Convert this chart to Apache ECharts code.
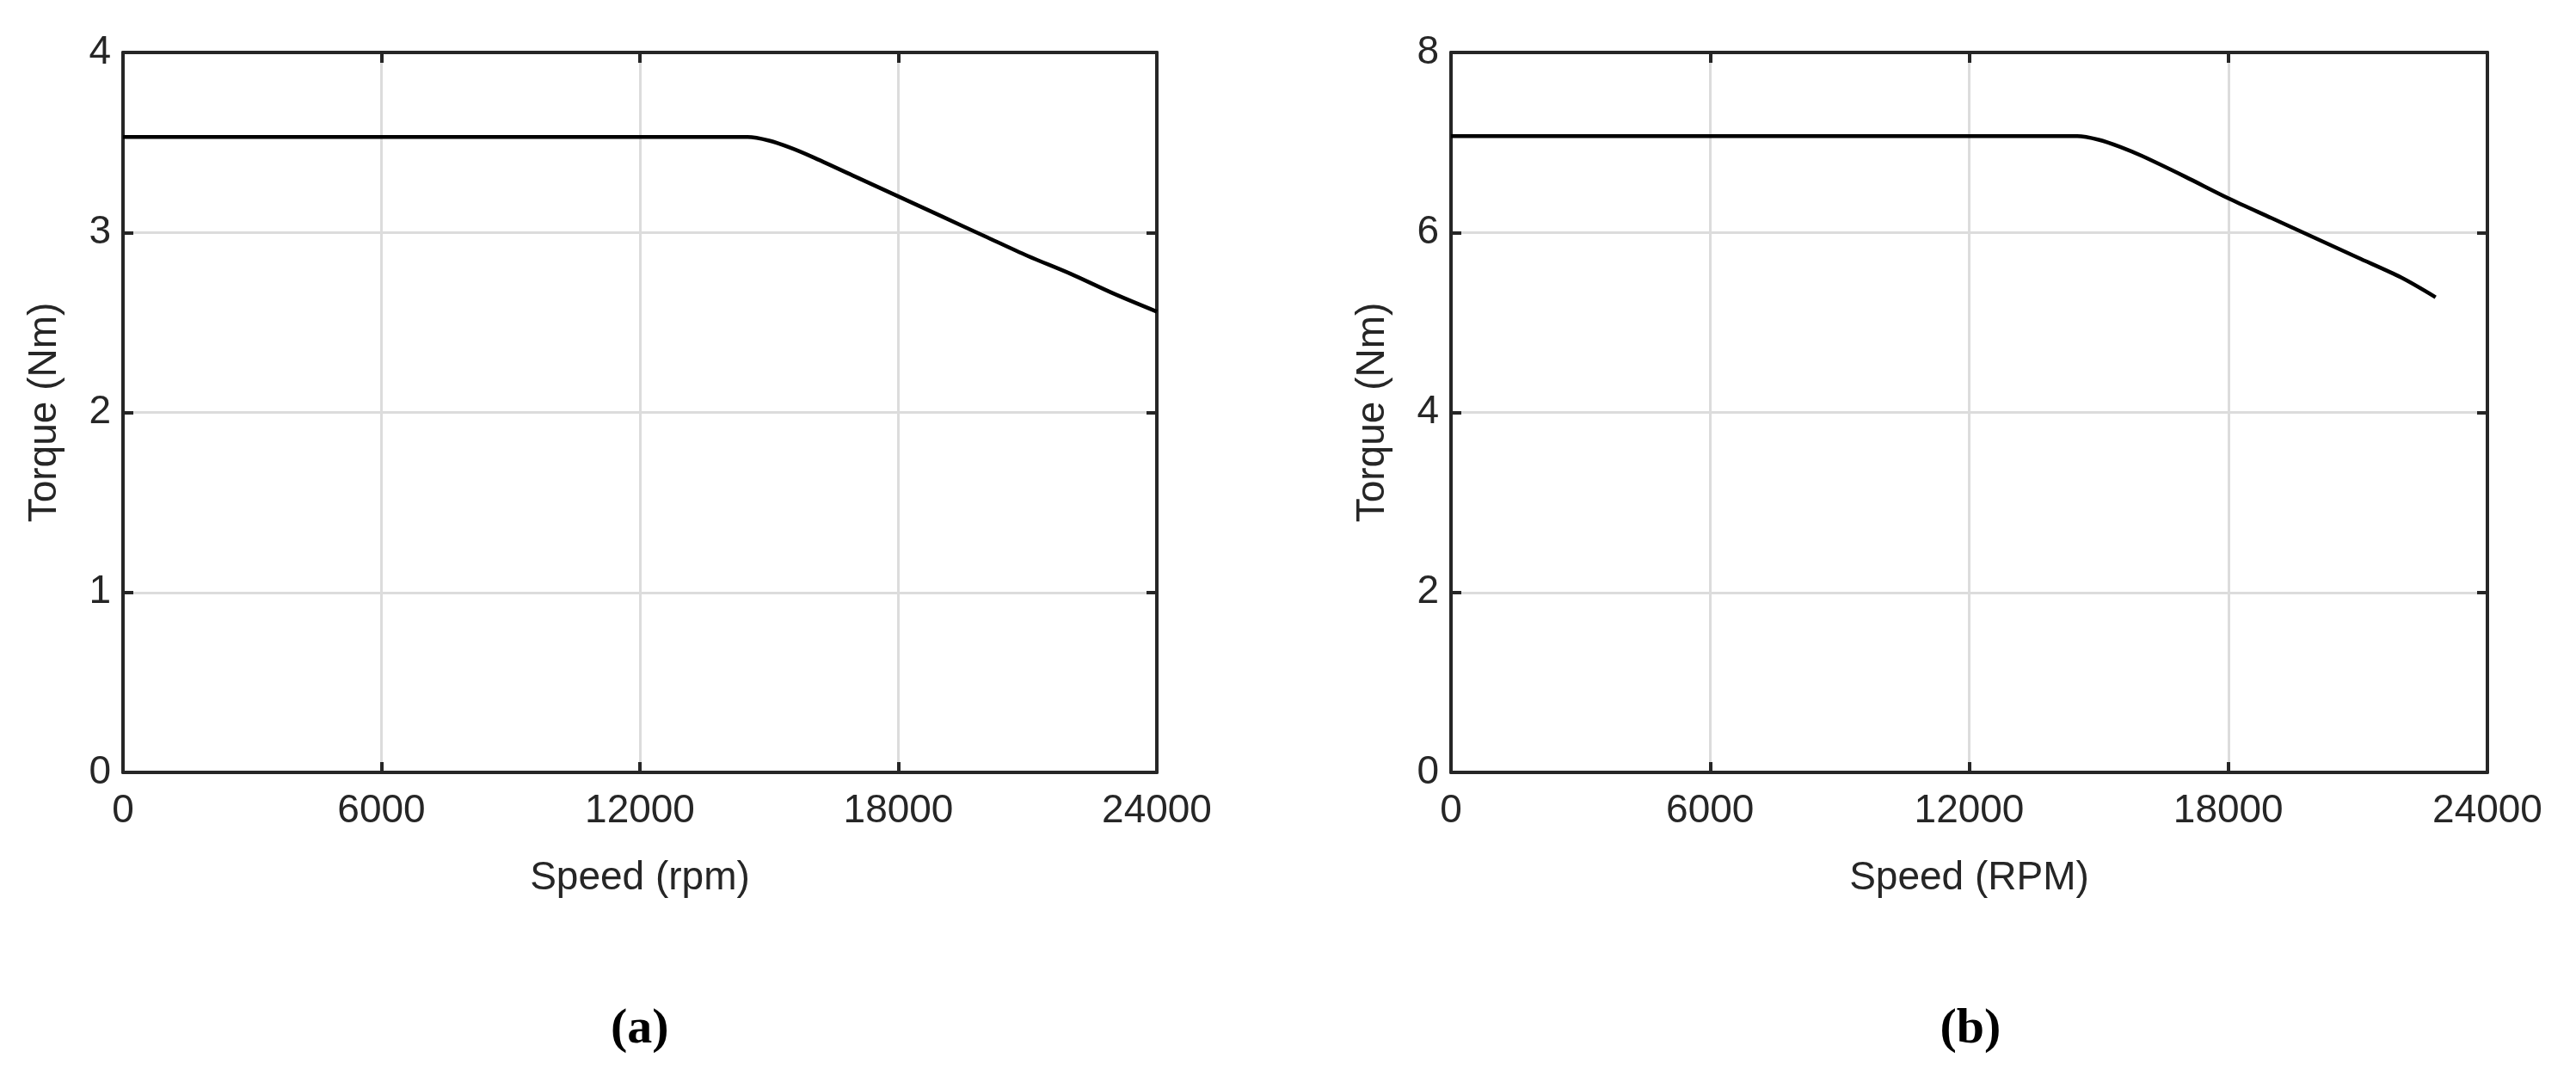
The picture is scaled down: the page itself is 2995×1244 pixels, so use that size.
<!DOCTYPE html>
<html>
<head>
<meta charset="utf-8">
<script src="https://cdn.jsdelivr.net/npm/echarts@6/dist/echarts.min.js"></script>
<style>body{margin:0;background:#fff}</style>
</head>
<body>
<div id="main" style="width:2995px;height:1244px;"></div>
<script>
var chart = echarts.init(document.getElementById('main'));

// speed (rpm) and torque (Nm)
var speedA = [0, 14500, 15000, 15500, 16000, 17000, 18000, 19000, 20000, 21000, 22000, 23000, 24000];
var torqueA = [3.53, 3.53, 3.51, 3.47, 3.42, 3.31, 3.20, 3.09, 2.98, 2.87, 2.77, 2.66, 2.56];
var speedB = [0, 14500, 15000, 15500, 16000, 17000, 18000, 19000, 20000, 21000, 22000, 22800];
var torqueB = [7.07, 7.07, 7.03, 6.95, 6.85, 6.62, 6.38, 6.16, 5.94, 5.72, 5.50, 5.28];
var xTitles = ['Speed (rpm)', 'Speed (RPM)'];
var panelTags = ['a', 'b'];

var font = 'Liberation Sans, Arial, sans-serif';
var frame = '#262626';
var grids = [
  {left: 143, width: 1202, top: 61, height: 837},
  {left: 1687, width: 1205, top: 61, height: 837}
];
var yMax = [4, 8], yStep = [1, 2];

function zip(a, b) { return a.map(function (v, i) { return [v, b[i]]; }); }
function plain(v) { return String(v); }

var xAxes = [], yAxes = [];
[0, 1].forEach(function (i) {
  xAxes.push({
    type: 'value', gridIndex: i, min: 0, max: 24000, interval: 6000,
    name: xTitles[i], nameLocation: 'middle', nameGap: 100,
    nameTextStyle: {fontSize: 46, color: frame, fontFamily: font},
    axisLine: {onZero: false, lineStyle: {color: frame, width: 4}},
    axisTick: {inside: true, length: 12, lineStyle: {color: frame, width: 4}},
    axisLabel: {fontSize: 46, color: frame, fontFamily: font, margin: 22, formatter: plain},
    splitLine: {lineStyle: {color: '#dcdcdc', width: 3}}
  });
  xAxes.push({
    type: 'value', gridIndex: i, position: 'top', min: 0, max: 24000, interval: 6000,
    axisLine: {show: true, onZero: false, lineStyle: {color: frame, width: 4}},
    axisTick: {show: true, inside: true, length: 12, lineStyle: {color: frame, width: 4}},
    axisLabel: {show: false}, splitLine: {show: false}
  });
  yAxes.push({
    type: 'value', gridIndex: i, min: 0, max: yMax[i], interval: yStep[i],
    name: 'Torque (Nm)', nameLocation: 'middle', nameGap: 68,
    nameTextStyle: {fontSize: 46, color: frame, fontFamily: font},
    axisLine: {show: true, onZero: false, lineStyle: {color: frame, width: 4}},
    axisTick: {show: true, inside: true, length: 12, lineStyle: {color: frame, width: 4}},
    axisLabel: {fontSize: 46, color: frame, fontFamily: font, margin: 14},
    splitLine: {lineStyle: {color: '#dcdcdc', width: 3}}
  });
  yAxes.push({
    type: 'value', gridIndex: i, position: 'right', min: 0, max: yMax[i], interval: yStep[i],
    axisLine: {show: true, onZero: false, lineStyle: {color: frame, width: 4}},
    axisTick: {show: true, inside: true, length: 12, lineStyle: {color: frame, width: 4}},
    axisLabel: {show: false}, splitLine: {show: false}
  });
});

var option = {
  animation: false,
  grid: grids,
  xAxis: xAxes,
  yAxis: yAxes,
  graphic: [0, 1].map(function (i) {
    return {
      type: 'text', left: grids[i].left + grids[i].width / 2 - 34, top: 1168,
      style: {
        text: '(' + panelTags[i] + ')', fontSize: 58, fontWeight: 'bold',
        fontFamily: 'Liberation Serif, serif', fill: '#000'
      }
    };
  }),
  series: [
    {type: 'line', xAxisIndex: 0, yAxisIndex: 0, data: zip(speedA, torqueA), smooth: 0.3,
     showSymbol: false, lineStyle: {color: '#000', width: 4.5}},
    {type: 'line', xAxisIndex: 2, yAxisIndex: 2, data: zip(speedB, torqueB), smooth: 0.3,
     showSymbol: false, lineStyle: {color: '#000', width: 4.5}}
  ]
};
chart.setOption(option);
</script>
</body>
</html>
